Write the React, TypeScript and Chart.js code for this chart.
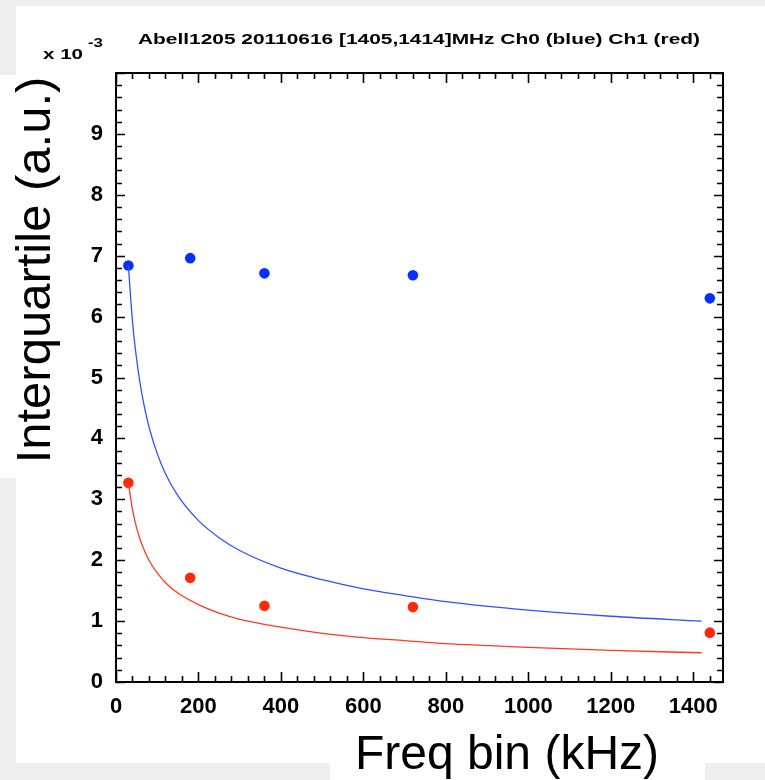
import React, { useEffect, useRef } from "react";
import { Chart, registerables } from "chart.js";

Chart.register(...registerables);

// ---- data (y values in units of 1e-3) ----
const FREQ_BINS = [30, 180, 360, 720, 1440];
const CH0_IQR = [6.84, 6.96, 6.71, 6.68, 6.3];
const CH1_IQR = [3.27, 1.71, 1.25, 1.23, 0.81];

const FIT_X = [30, 40, 50, 60, 70, 80, 100, 120, 150, 200, 250, 300, 400, 500, 600, 700, 800, 1000, 1200, 1420];
const CH0_FIT = [6.84, 5.92, 5.3, 4.84, 4.48, 4.19, 3.75, 3.42, 3.06, 2.65, 2.37, 2.16, 1.87, 1.68, 1.53, 1.42, 1.32, 1.18, 1.08, 1.0];
const CH1_FIT = [3.27, 2.83, 2.53, 2.31, 2.14, 2.0, 1.79, 1.63, 1.46, 1.27, 1.13, 1.03, 0.9, 0.8, 0.73, 0.68, 0.63, 0.57, 0.52, 0.48];

const X_TICKS = [0, 200, 400, 600, 800, 1000, 1200, 1400];
const Y_TICKS = [0, 1, 2, 3, 4, 5, 6, 7, 8, 9];
const X_MIN = 0;
const X_MAX = 1472;
const Y_MIN = 0;
const Y_MAX = 10;
const X_MINOR = 40;
const Y_MINOR = 0.2;

const TITLE = "Abell1205 20110616 [1405,1414]MHz Ch0 (blue) Ch1 (red)";
const X_TITLE = "Freq bin (kHz)";
const Y_TITLE = "Interquartile (a.u.)";

const BLUE = "#0530ff";
const RED = "#ff2a0a";
const FAM = "'Liberation Sans', Arial, Helvetica, sans-serif";

function stretchText(ctx: CanvasRenderingContext2D, text: string, font: string, x: number, y: number, w: number) {
  ctx.save();
  ctx.font = font;
  const m = ctx.measureText(text).width;
  ctx.translate(x, y);
  ctx.scale(w / m, 1);
  ctx.textAlign = "left";
  ctx.textBaseline = "alphabetic";
  ctx.fillStyle = "#000";
  ctx.fillText(text, 0, 0);
  ctx.restore();
}

const framePlugin = {
  id: "matlabFrame",
  afterDatasetsDraw(chart: any) {
    const ctx: CanvasRenderingContext2D = chart.ctx;
    const { left, right, top, bottom } = chart.chartArea;
    const xs = chart.scales.x;
    const ys = chart.scales.y;
    ctx.save();
    ctx.strokeStyle = "#000";
    ctx.lineWidth = 1.6;
    ctx.beginPath();
    for (let v = X_MIN; v <= X_MAX + 1e-6; v += X_MINOR) {
      const major = X_TICKS.includes(Math.round(v));
      const px = Math.round(xs.getPixelForValue(v)) + 0.5;
      const len = major ? 10 : 6;
      ctx.moveTo(px, bottom);
      ctx.lineTo(px, bottom - len);
      ctx.moveTo(px, top);
      ctx.lineTo(px, top + len);
    }
    for (let i = 0; i * Y_MINOR <= Y_MAX + 1e-6; i++) {
      const v = i * Y_MINOR;
      const major = Math.abs(v - Math.round(v)) < 1e-6;
      const py = Math.round(ys.getPixelForValue(v)) + 0.5;
      const len = major ? 9 : 6;
      ctx.moveTo(left, py);
      ctx.lineTo(left + len, py);
      ctx.moveTo(right, py);
      ctx.lineTo(right - len, py);
    }
    ctx.stroke();
    ctx.lineWidth = 2;
    ctx.strokeRect(left, top, right - left, bottom - top);
    ctx.restore();
  },
  afterDraw(chart: any) {
    const ctx: CanvasRenderingContext2D = chart.ctx;
    stretchText(ctx, TITLE, `bold 15.5px ${FAM}`, 138, 43.5, 562);
    stretchText(ctx, "x 10", `bold 15px ${FAM}`, 43, 58.5, 40);
    stretchText(ctx, "-3", `bold 12px ${FAM}`, 88, 46.5, 15);
    ctx.save();
    ctx.fillStyle = "#000";
    ctx.textAlign = "center";
    ctx.textBaseline = "alphabetic";
    ctx.font = `48px ${FAM}`;
    ctx.fillText(X_TITLE, 507, 769);
    ctx.font = `49px ${FAM}`;
    ctx.translate(49.5, 270);
    ctx.rotate(-Math.PI / 2);
    ctx.fillText(Y_TITLE, 0, 0);
    ctx.restore();
  },
};

export default function App() {
  const ref = useRef<HTMLCanvasElement | null>(null);

  useEffect(() => {
    if (!ref.current) return;
    const tickFont = { family: FAM, size: 22, weight: "bold" as const };
    const chart = new Chart(ref.current, {
      type: "scatter",
      data: {
        datasets: [
          {
            label: "Ch0 fit",
            data: FIT_X.map((x, i) => ({ x, y: CH0_FIT[i] })),
            showLine: true,
            borderColor: "#3050ff",
            borderWidth: 1.3,
            pointRadius: 0,
            cubicInterpolationMode: "monotone",
          },
          {
            label: "Ch1 fit",
            data: FIT_X.map((x, i) => ({ x, y: CH1_FIT[i] })),
            showLine: true,
            borderColor: "#ff3a1e",
            borderWidth: 1.3,
            pointRadius: 0,
            cubicInterpolationMode: "monotone",
          },
          {
            label: "Ch0",
            data: FREQ_BINS.map((x, i) => ({ x, y: CH0_IQR[i] })),
            showLine: false,
            pointRadius: 5.3,
            pointBackgroundColor: BLUE,
            pointBorderColor: BLUE,
            pointBorderWidth: 0,
          },
          {
            label: "Ch1",
            data: FREQ_BINS.map((x, i) => ({ x, y: CH1_IQR[i] })),
            showLine: false,
            pointRadius: 5.3,
            pointBackgroundColor: RED,
            pointBorderColor: RED,
            pointBorderWidth: 0,
          },
        ],
      },
      options: {
        responsive: false,
        animation: false,
        events: [],
        layout: { padding: { left: 0, right: 42, top: 73, bottom: 0 } },
        plugins: {
          legend: { display: false },
          tooltip: { enabled: false },
          title: { display: false },
        },
        scales: {
          x: {
            type: "linear",
            min: X_MIN,
            max: X_MAX,
            grid: { display: false, drawTicks: false },
            border: { display: false },
            ticks: {
              font: tickFont,
              color: "#000",
              padding: 12,
              maxRotation: 0,
              autoSkip: false,
              callback: (v: any) => String(v),
            },
            afterBuildTicks: (s: any) => {
              s.ticks = X_TICKS.map((v) => ({ value: v }));
            },
            afterFit: (s: any) => {
              s.height = 98;
            },
          },
          y: {
            type: "linear",
            min: Y_MIN,
            max: Y_MAX,
            grid: { display: false, drawTicks: false },
            border: { display: false },
            ticks: {
              font: tickFont,
              color: "#000",
              padding: 13,
              autoSkip: false,
              callback: (v: any) => String(v),
            },
            afterBuildTicks: (s: any) => {
              s.ticks = Y_TICKS.map((v) => ({ value: v }));
            },
            afterFit: (s: any) => {
              s.width = 116;
            },
          },
        },
      },
      plugins: [framePlugin],
    } as any);
    return () => chart.destroy();
  }, []);

  return (
    <div style={{ position: "absolute", left: 0, top: 0, width: 765, height: 780, background: "#efefef", overflow: "hidden" }}>
      <div style={{ position: "absolute", left: 16, top: 6, width: 749, height: 757, background: "#fff" }} />
      <div style={{ position: "absolute", left: 0, top: 75, width: 16, height: 403, background: "#fff" }} />
      <div style={{ position: "absolute", left: 330, top: 760, width: 375, height: 20, background: "#fff" }} />
      <canvas ref={ref} width={765} height={780} style={{ position: "absolute", left: 0, top: 0, width: 765, height: 780 }} />
    </div>
  );
}
